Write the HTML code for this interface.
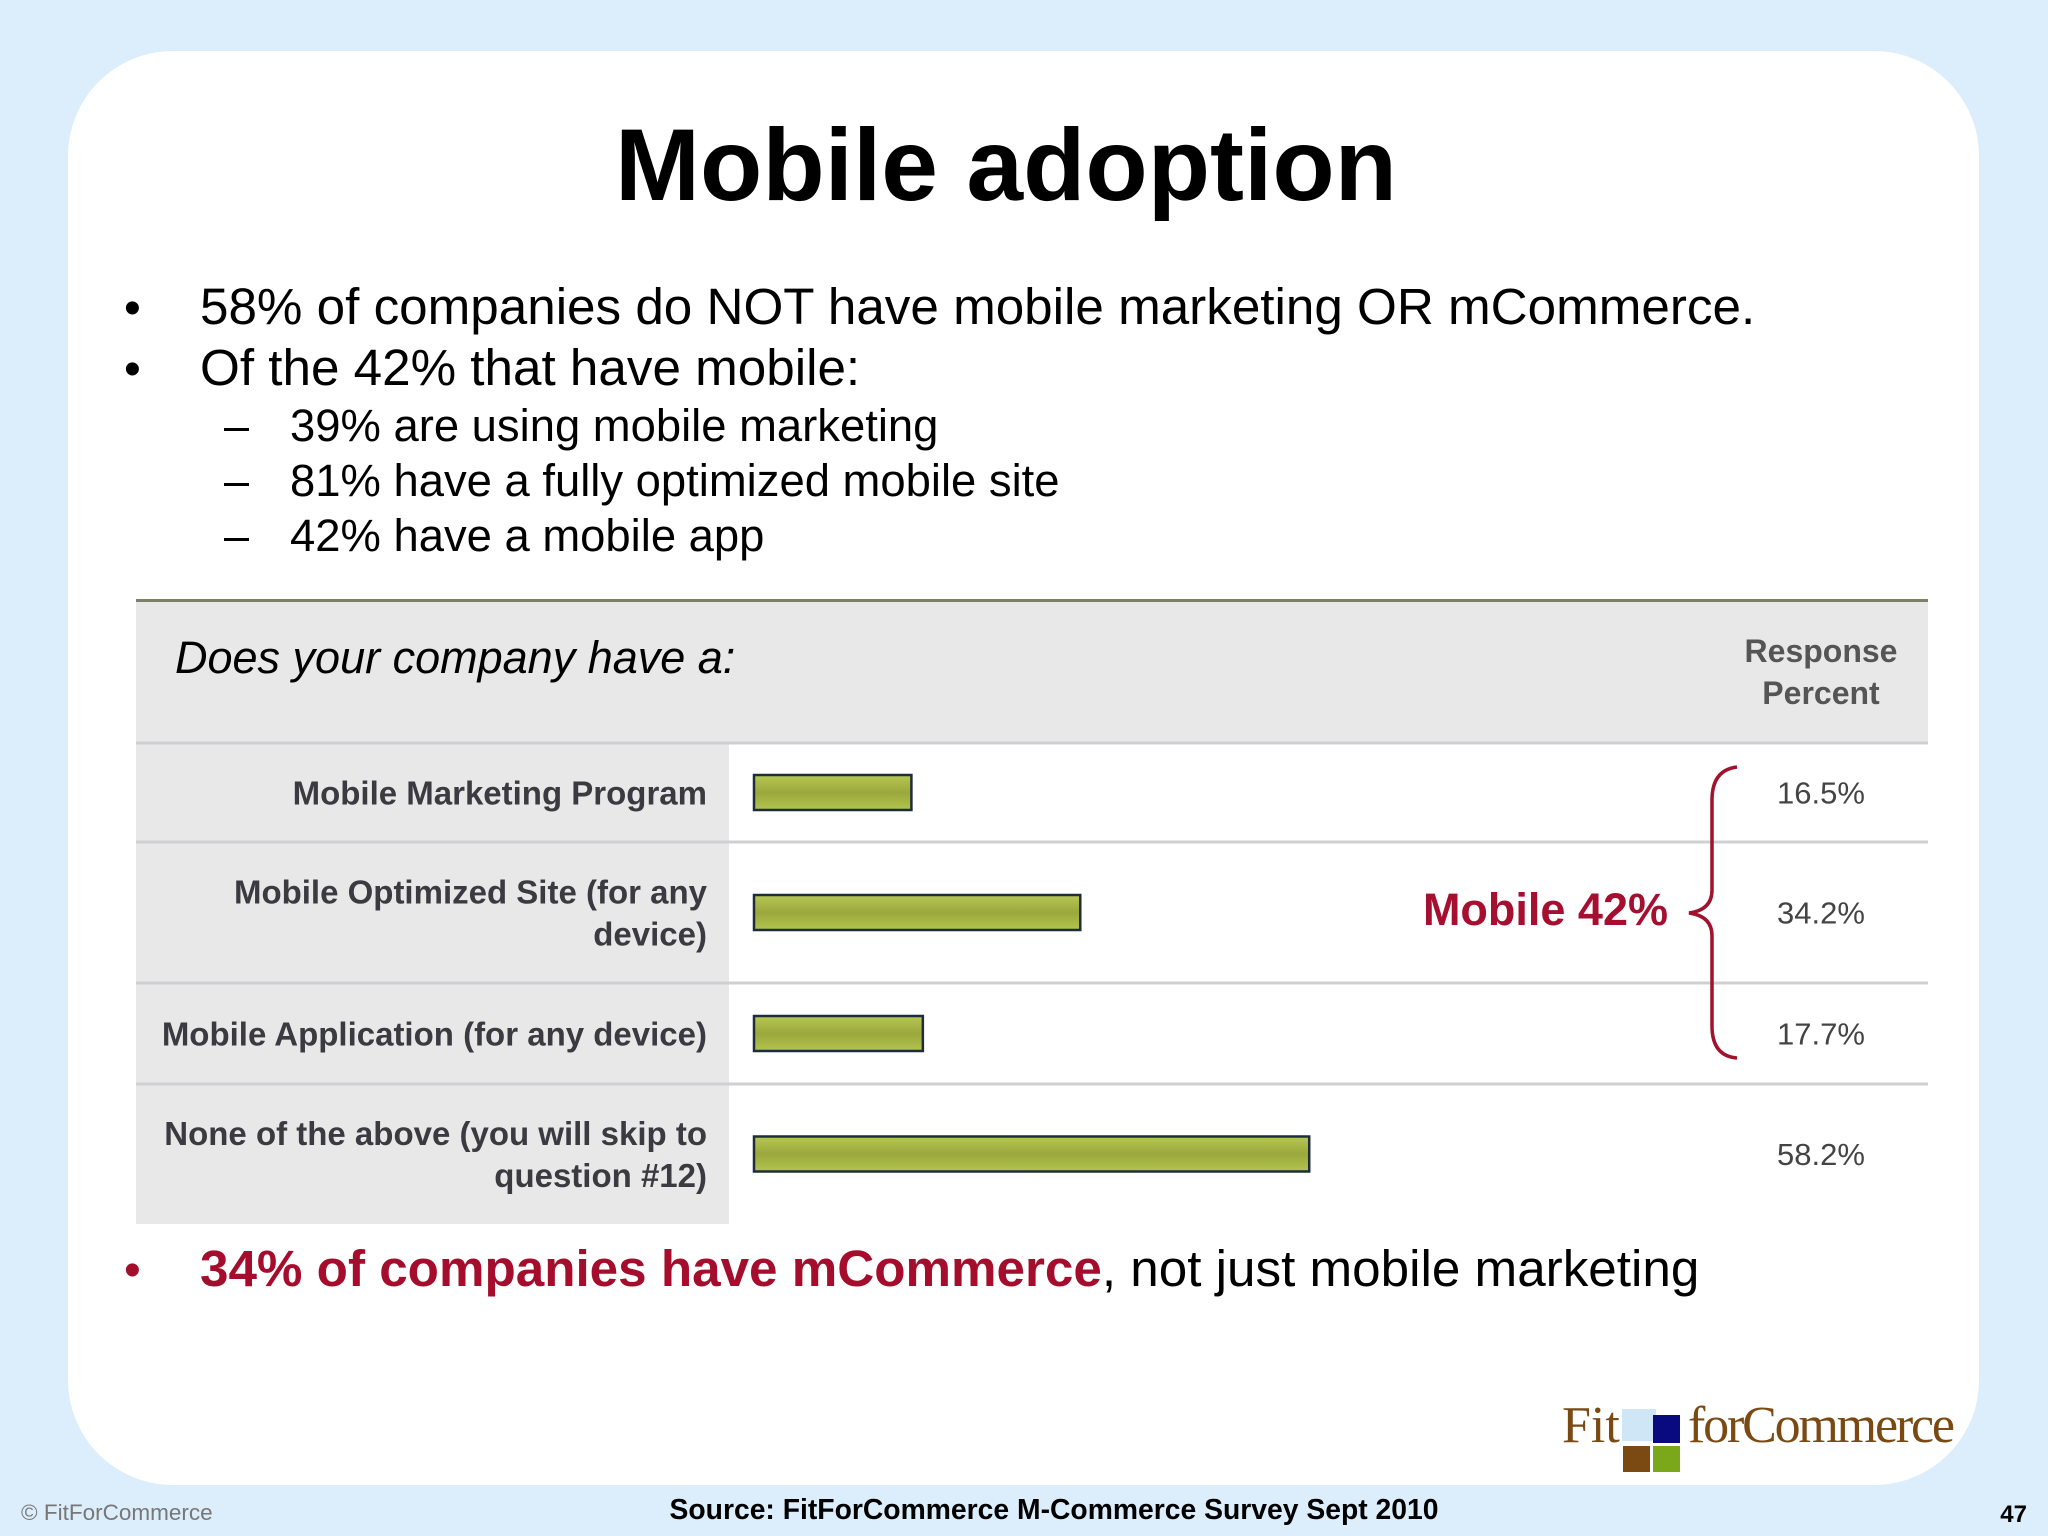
<!DOCTYPE html>
<html><head><meta charset="utf-8"><style>
html,body{margin:0;padding:0;width:2048px;height:1536px;overflow:hidden;background:#dcedfb;}
svg{display:block}
</style></head><body>
<svg id="slide" width="2048" height="1536" viewBox="0 0 2048 1536" xmlns="http://www.w3.org/2000/svg">
<defs>
<linearGradient id="barg" x1="0" y1="0" x2="0" y2="1">
<stop offset="0" stop-color="#b7c852"/><stop offset="0.5" stop-color="#9aa83c"/><stop offset="1" stop-color="#b2c44e"/>
</linearGradient>
</defs>
<rect x="0" y="0" width="2048" height="1536" fill="#dcedfb"/>
<rect x="68" y="51" width="1911" height="1434" rx="105" fill="#ffffff"/>
<text x="1006" y="200" text-anchor="middle" font-family="Liberation Sans, sans-serif" font-weight="bold" font-size="102" fill="#000">Mobile adoption</text>
<g font-family="Liberation Sans, sans-serif" fill="#000">
<text x="124" y="324" font-size="48">•</text>
<text x="200" y="324" font-size="51.2">58% of companies do NOT have mobile marketing OR mCommerce.</text>
<text x="124" y="385" font-size="48">•</text>
<text x="200" y="385" font-size="51.2">Of the 42% that have mobile:</text>
<text x="224" y="441" font-size="45">–</text>
<text x="290" y="441" font-size="45.4">39% are using mobile marketing</text>
<text x="224" y="496" font-size="45">–</text>
<text x="290" y="496" font-size="45.4">81% have a fully optimized mobile site</text>
<text x="224" y="551" font-size="45">–</text>
<text x="290" y="551" font-size="45.4">42% have a mobile app</text>
</g>
<g id="chart">
<rect x="136" y="600" width="1792" height="143" fill="#e8e8e9"/>
<rect x="136" y="599" width="1792" height="3" fill="#7d8068"/>
<rect x="136" y="743" width="593" height="481" fill="#e8e8e9"/>
<rect x="136" y="741.5" width="1792" height="3" fill="#d0d0d2"/>
<text x="175" y="673" font-family="Liberation Sans, sans-serif" font-style="italic" font-size="45" fill="#000">Does your company have a:</text>
<text x="1821" y="662" text-anchor="middle" font-family="Liberation Sans, sans-serif" font-weight="bold" font-size="32" fill="#555">Response</text>
<text x="1821" y="704" text-anchor="middle" font-family="Liberation Sans, sans-serif" font-weight="bold" font-size="32" fill="#555">Percent</text>
<g id="rows"></g>
<path d="M1737 767 Q1712 770 1712 800 L1712 890 Q1712 910 1689 913 Q1712 916 1712 936 L1712 1026 Q1712 1056 1737 1058" fill="none" stroke="#a0122e" stroke-width="3.5"/>
<text x="1668" y="925" text-anchor="end" font-family="Liberation Sans, sans-serif" font-weight="bold" font-size="45" fill="#a50f30">Mobile 42%</text>
</g>
<text x="124" y="1286" font-family="Liberation Sans, sans-serif" font-size="48" fill="#a50d2d">•</text>
<text x="200" y="1286" font-family="Liberation Sans, sans-serif" font-size="51.2" fill="#000"><tspan font-weight="bold" fill="#a50d2d">34% of companies have mCommerce</tspan>, not just mobile marketing</text>
<g>
<text x="1562" y="1442" font-family="Liberation Serif, serif" font-size="52" fill="#7a4a12">Fit</text>
<rect x="1622" y="1409" width="34" height="32" fill="#cfe6f7"/>
<rect x="1653" y="1415" width="27" height="28" fill="#0a0a80"/>
<rect x="1623" y="1446" width="27" height="26" fill="#7a4a12"/>
<rect x="1653" y="1446" width="27" height="26" fill="#7aa81a"/>
<text x="1688" y="1442" font-family="Liberation Serif, serif" font-size="52" fill="#7a4a12" textLength="267">forCommerce</text>
</g>
<text x="21" y="1520" font-family="Liberation Sans, sans-serif" font-size="22.5" fill="#777">© FitForCommerce</text>
<text x="1054" y="1519" text-anchor="middle" font-family="Liberation Sans, sans-serif" font-weight="bold" font-size="28.3" fill="#000">Source: FitForCommerce M-Commerce Survey Sept 2010</text>
<text x="2027" y="1522" text-anchor="end" font-family="Liberation Sans, sans-serif" font-weight="bold" font-size="24" fill="#000">47</text>
</svg>
<script>
const categories = [["Mobile Marketing Program"],["Mobile Optimized Site (for any","device)"],["Mobile Application (for any device)"],["None of the above (you will skip to","question #12)"]];
const values = [16.5, 34.2, 17.7, 58.2];
const valueLabels = ["16.5%","34.2%","17.7%","58.2%"];
const rowBounds = [743, 842, 983, 1084, 1224];

const NS = "http://www.w3.org/2000/svg";
const x0 = 754, pxPerPct = 9.54;
function xScale(v){ return v * pxPerPct; }
const g = document.getElementById('rows');
function mk(tag, attrs){ const e=document.createElementNS(NS,tag); for(const k in attrs) e.setAttribute(k, attrs[k]); g.appendChild(e); return e; }
for (let i=0;i<values.length;i++){
  const top=rowBounds[i], bot=rowBounds[i+1], cy=(top+bot)/2;
  if (i<values.length-1){
    const line = mk('rect',{x:136,y:bot-1.5,width:1792,height:3,fill:'#d0d0d2'});
    
    
  }
  const bar = mk('rect',{x:x0,y:cy-17.5,width:xScale(values[i]),height:35,fill:'url(#barg)',stroke:'#1e2d3c','stroke-width':2.5});
  
  
  const lines = categories[i];
  const n = lines.length;
  lines.forEach((t,j)=>{
    const tx = mk('text',{x:707,y:cy+12+(j-(n-1)/2)*42,'text-anchor':'end','font-family':'Liberation Sans, sans-serif','font-weight':'bold','font-size':33,fill:'#3a3a40'});
    tx.textContent = t;
    
    
  });
  const vt = mk('text',{x:1821,y:cy+11,'text-anchor':'middle','font-family':'Liberation Sans, sans-serif','font-size':31,fill:'#444'});
  vt.textContent = valueLabels[i];
  
  
}
</script>
</body></html>
